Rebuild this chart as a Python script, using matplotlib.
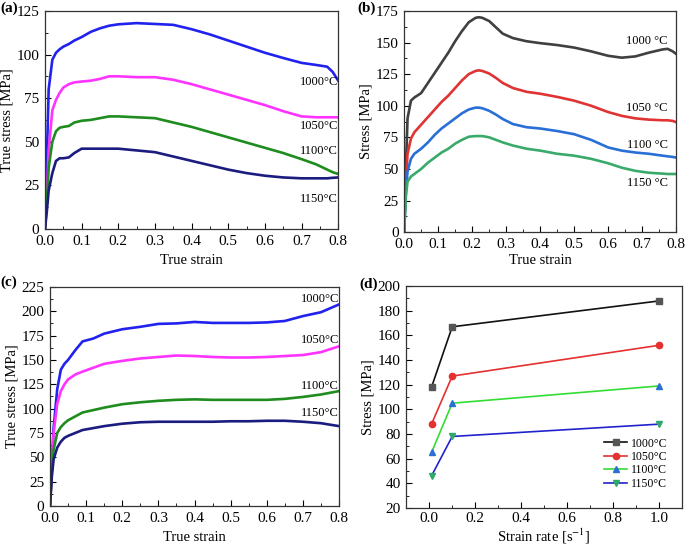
import matplotlib
matplotlib.use("Agg")
import matplotlib.pyplot as plt
from matplotlib.ticker import MultipleLocator, AutoMinorLocator

plt.rcParams['font.family'] = ['Liberation Serif', 'DejaVu Serif']
plt.rcParams['mathtext.fontset'] = 'stix'

temps = ['1000°C', '1050°C', '1100°C', '1150°C']

# ---- panel (a) ----
a_x = [0.0, 0.005, 0.01, 0.02, 0.03, 0.04, 0.05, 0.065, 0.08, 0.1, 0.125, 0.15, 0.175, 0.2, 0.25, 0.3, 0.35, 0.4, 0.45, 0.5, 0.55, 0.6, 0.65, 0.7, 0.74, 0.77, 0.785, 0.8]
a_1000 = [0, 40, 80, 97, 101, 103, 104.5, 106, 108, 110, 113, 115, 116.5, 117.3, 118, 117.5, 117, 114.5, 111.5, 108, 104.5, 101, 98, 95.2, 94, 93, 90, 85]
a_1050 = [0, 20, 45, 68, 74, 78, 81, 83, 84, 84.5, 85, 86, 87.5, 87.5, 87, 87, 85.5, 83, 80, 77, 74, 71, 67.5, 64.5, 64, 64, 64, 64]
a_1100 = [0, 15, 35, 50, 56, 58, 58.5, 59, 61, 62, 62.5, 63.5, 64.5, 64.5, 64, 63.5, 61, 58.5, 55.5, 52.5, 49.5, 46.5, 43.5, 40, 37, 34, 32.5, 31.5]
a_1150 = [0, 10, 22, 32, 39, 40.5, 40.5, 41, 43.5, 46, 46, 46, 46, 46, 45, 44, 41.5, 39, 36.5, 34, 32, 30.5, 29.5, 29, 29, 29, 29.3, 29.5]

# ---- panel (b) ----
b_x = [0.0, 0.005, 0.01, 0.02, 0.03, 0.05, 0.07, 0.09, 0.11, 0.13, 0.15, 0.17, 0.19, 0.21, 0.22, 0.23, 0.25, 0.27, 0.29, 0.32, 0.36, 0.4, 0.45, 0.5, 0.55, 0.6, 0.64, 0.68, 0.72, 0.76, 0.775, 0.79, 0.8]
b_1000 = [0, 50, 90, 104, 106.5, 110, 118, 126, 134, 142, 151, 159, 166, 169.5, 170, 169.5, 167, 162, 157, 153.5, 151, 149.5, 148, 146, 143, 139.5, 138, 139, 142, 144.5, 145, 143, 141]
b_1050 = [0, 40, 62, 74, 79, 85, 91, 97, 103, 108, 114, 120, 125, 127.5, 128, 127.5, 125.5, 122, 118, 114, 111, 109.5, 107, 104, 100, 95, 92, 90, 89, 88.5, 88.5, 88, 87]
b_1100 = [0, 32, 48, 58, 62, 66, 71, 77, 82, 86, 90, 94, 97, 98.5, 98.5, 98, 96, 93, 89.5, 85.5, 83, 82, 80, 77.5, 73, 67, 64.5, 63, 62, 60.5, 60, 59.5, 59]
b_1150 = [0, 28, 40, 44, 46, 50, 55, 59, 63, 66, 70, 73, 75.5, 76, 76, 76, 75, 73, 71, 68.5, 66, 64.5, 62, 60.5, 58, 54.5, 51, 48.5, 47, 46.3, 46, 46, 46]

# ---- panel (c) ----
c_x = [0.0, 0.005, 0.01, 0.02, 0.03, 0.04, 0.05, 0.07, 0.09, 0.12, 0.15, 0.2, 0.25, 0.3, 0.35, 0.4, 0.45, 0.5, 0.55, 0.6, 0.65, 0.7, 0.75, 0.8]
c_1000 = [0, 40, 80, 120, 140, 146, 150, 160, 169, 172, 177, 181.5, 184, 187, 187.5, 189, 188, 188, 188, 188.5, 190, 195, 199, 207]
c_1050 = [0, 40, 75, 105, 118, 125, 130, 135, 138, 142, 146, 149, 151.5, 153, 154.5, 154, 153, 152.5, 152.5, 153, 154, 155, 158, 164]
c_1100 = [0, 35, 58, 75, 81, 85, 88, 92, 96, 98.5, 101, 104.5, 106.5, 108, 109, 109.5, 109, 109, 109, 109, 110, 112, 114.5, 118]
c_1150 = [0, 30, 48, 60, 66, 70, 72, 75, 78, 80, 82, 84.5, 86, 86.5, 86.5, 86.5, 86.5, 87, 87, 87.5, 87.5, 86.5, 85, 82]

# ---- panel (d) ----
d_rate = [0.01, 0.1, 1.0]
d_1000 = [118, 167, 188]
d_1050 = [88, 127, 152]
d_1100 = [65, 105, 119]
d_1150 = [46, 78, 88]

fig = plt.figure(figsize=(6.85, 5.45), dpi=100)

TICK = 11
LAB = 10.5

def style(ax):
    ax.tick_params(direction='in', which='both', labelsize=TICK, top=False, right=False)
    ax.tick_params(axis='x', pad=4.5)
    ax.tick_params(axis='y', pad=4)
    ax.tick_params(which='major', length=4)
    ax.tick_params(which='minor', length=2)
    for s in ax.spines.values():
        s.set_color('#333333')
        s.set_linewidth(0.9)

def fmt_x(ax):
    ax.set_xticklabels([f'{v:.1f}' for v in ax.get_xticks()])

# (a)
axa = fig.add_axes([0.0657, 0.580, 0.428, 0.400])
cols_a = ['#2222ee', '#ff33ff', '#1e8c1e', '#1c1c80']
for ys, c in zip([a_1000, a_1050, a_1100, a_1150], cols_a):
    axa.plot(a_x, ys, color=c, lw=1.9, solid_joinstyle='round')
axa.set_xlim(0, 0.8); axa.set_ylim(0, 125)
axa.xaxis.set_major_locator(MultipleLocator(0.1)); axa.xaxis.set_minor_locator(AutoMinorLocator(2))
axa.yaxis.set_major_locator(MultipleLocator(25)); axa.yaxis.set_minor_locator(AutoMinorLocator(2))
fmt_x(axa)
style(axa)
axa.set_xlabel('True strain', fontsize=LAB, labelpad=4)
axa.set_ylabel('True stress [MPa]', fontsize=LAB, labelpad=2)
for lab, y in zip(temps, [84.5, 58.8, 44.5, 17.4]):
    axa.text(0.8, y, lab, fontsize=9, ha='right', va='center')
fig.text(0.0, 0.998, '(a)', fontsize=11, fontweight='bold', ha='left', va='top')

# (b)
axb = fig.add_axes([0.590, 0.574, 0.397, 0.406])
cols_b = ['#404040', '#e03333', '#2a6fd6', '#3aaa6a']
for ys, c in zip([b_1000, b_1050, b_1100, b_1150], cols_b):
    axb.plot(b_x, ys, color=c, lw=1.9, solid_joinstyle='round')
axb.set_xlim(0, 0.8); axb.set_ylim(0, 175)
axb.xaxis.set_major_locator(MultipleLocator(0.1)); axb.xaxis.set_minor_locator(AutoMinorLocator(2))
axb.yaxis.set_major_locator(MultipleLocator(25)); axb.yaxis.set_minor_locator(AutoMinorLocator(2))
fmt_x(axb)
style(axb)
axb.set_xlabel('True strain', fontsize=LAB, labelpad=1.5)
axb.set_ylabel('Stress [MPa]', fontsize=LAB, labelpad=2)
for lab, y in zip(['1000 °C', '1050 °C', '1100 °C', '1150 °C'], [150.8, 97.9, 69.3, 38.9]):
    axb.text(0.775, y, lab, fontsize=9, ha='right', va='center')
fig.text(0.522, 0.998, '(b)', fontsize=11, fontweight='bold', ha='left', va='top')

# (c)
axc = fig.add_axes([0.073, 0.0716, 0.422, 0.402])
for ys, c in zip([c_1000, c_1050, c_1100, c_1150], cols_a):
    axc.plot(c_x, ys, color=c, lw=1.9, solid_joinstyle='round')
axc.set_xlim(0, 0.8); axc.set_ylim(0, 225)
axc.xaxis.set_major_locator(MultipleLocator(0.1)); axc.xaxis.set_minor_locator(AutoMinorLocator(2))
axc.yaxis.set_major_locator(MultipleLocator(25)); axc.yaxis.set_minor_locator(AutoMinorLocator(2))
fmt_x(axc)
style(axc)
axc.set_xlabel('True strain', fontsize=LAB, labelpad=4)
axc.set_ylabel('True stress [MPa]', fontsize=LAB, labelpad=2)
for lab, y in zip(temps, [212.7, 170, 123.4, 95.9]):
    axc.text(0.8, y, lab, fontsize=9, ha='right', va='center')
fig.text(0.0, 0.495, '(c)', fontsize=11, fontweight='bold', ha='left', va='top')

# (d)
axd = fig.add_axes([0.593, 0.068, 0.403, 0.407])
series_d = [d_1000, d_1050, d_1100, d_1150]
line_cols = ['#111111', '#e53030', '#33dd33', '#2222cc']
mark_cols = ['#555555', '#e53030', '#2a6fd6', '#2ea86b']
markers = ['s', 'o', '^', 'v']
for ys, lab, lc, mc, m in zip(series_d, temps, line_cols, mark_cols, markers):
    axd.plot(d_rate, ys, color=lc, lw=1.2, marker=m, markersize=4.5,
             markerfacecolor=mc, markeredgecolor=mc, label=lab)
axd.set_xlim(-0.1, 1.1); axd.set_ylim(20, 200)
axd.xaxis.set_major_locator(MultipleLocator(0.2)); axd.xaxis.set_minor_locator(AutoMinorLocator(2))
axd.yaxis.set_major_locator(MultipleLocator(20)); axd.yaxis.set_minor_locator(AutoMinorLocator(2))
fmt_x(axd)
style(axd)
axd.tick_params(axis='x', pad=3)
axd.set_ylabel('Stress [MPa]', fontsize=LAB, labelpad=2)
axd.legend(loc='lower right', bbox_to_anchor=(0.972, 0.05), frameon=False, fontsize=8.5,
           handlelength=2.0, handletextpad=0.3, labelspacing=0.12, borderpad=0.1)
axd.set_xlabel('Strain rate [s$^{-1}$]', fontsize=LAB, labelpad=1)
fig.text(0.525, 0.49, '(d)', fontsize=11, fontweight='bold', ha='left', va='top')

fig.savefig('out.png', dpi=100)
